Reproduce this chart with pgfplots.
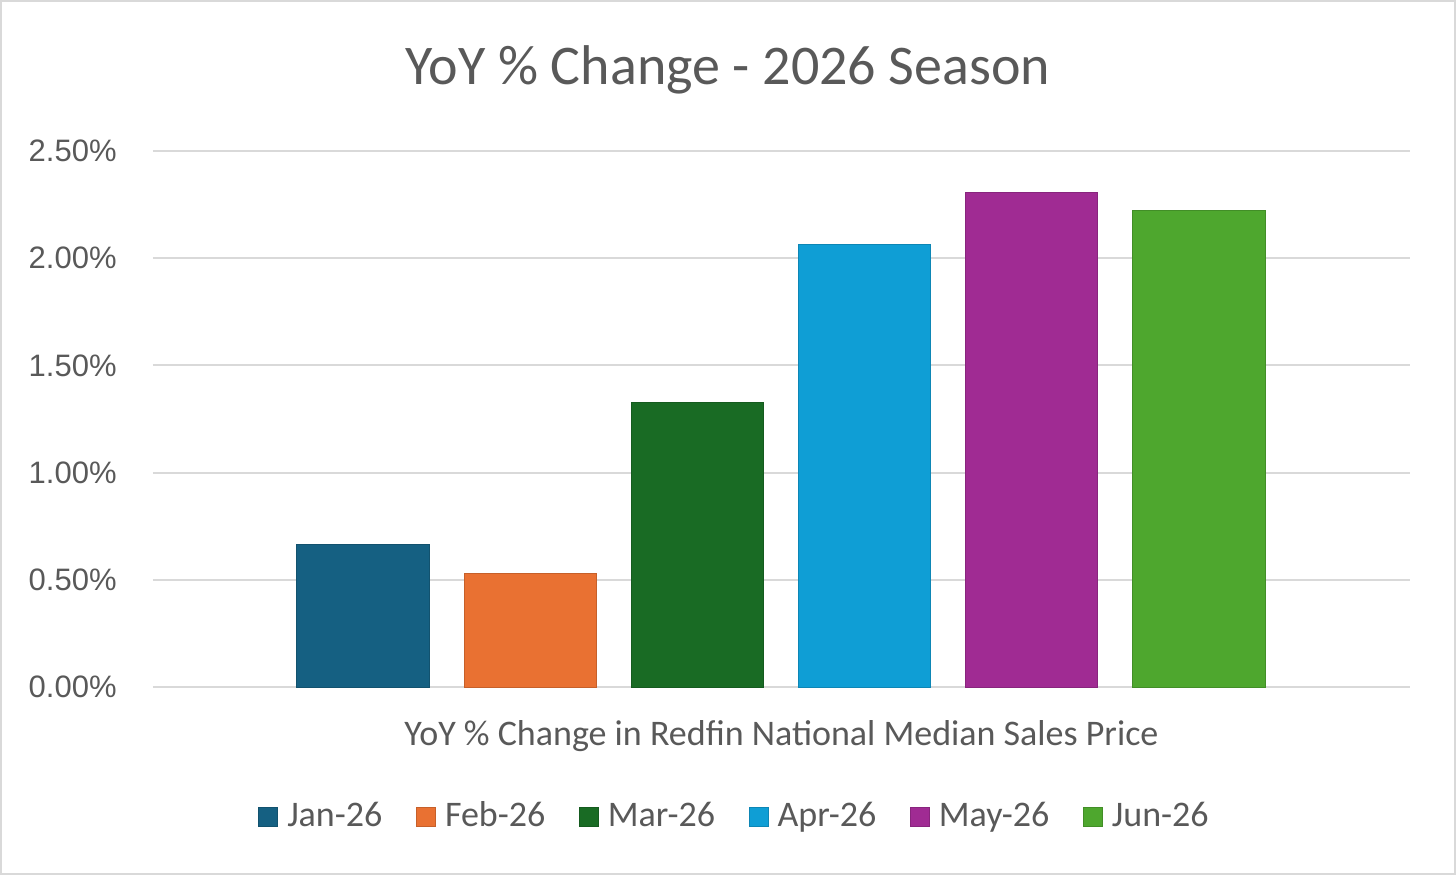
\documentclass[border=0pt]{standalone}
\usepackage{pgfplots}
\pgfplotsset{compat=1.18}
\usepackage{fontspec}
\setmainfont{Carlito}
\newfontfamily\tickfont{Liberation Sans}
\definecolor{txt}{HTML}{595959}
\definecolor{gridc}{HTML}{D9D9D9}
\definecolor{cJan}{HTML}{156082}
\definecolor{cFeb}{HTML}{E97132}
\definecolor{cMar}{HTML}{196B24}
\definecolor{cApr}{HTML}{0F9ED5}
\definecolor{cMay}{HTML}{A02B93}
\definecolor{cJun}{HTML}{4EA72E}
\begin{document}
\begin{tikzpicture}
\begin{axis}[
  scale only axis, width=628.5pt, height=268pt,
  xmin=-1.256, xmax=6.262, ymin=0, ymax=2.5,
  ybar, bar width=0.79, bar shift=0pt,
  axis line style={draw=none},
  xtick=\empty, ytick={0,0.5,1,1.5,2,2.5},
  ymajorgrids, grid style={gridc, line width=1pt},
  major tick length=0pt,
  /pgf/number format/assume math mode=true,
  yticklabel={\pgfmathprintnumber[fixed,fixed zerofill,precision=2]{\tick}\%},
  yticklabel style={font=\tickfont\fontsize{15.5}{18}\selectfont, text=txt, inner sep=0pt, xshift=-18pt},
  clip=false,
  legend columns=6,
  legend style={draw=none, fill=none, at={(axis description cs:0.4618,-0.2388)}, anchor=center,
    font=\fontsize{18}{21}\selectfont, text=txt,
    nodes={inner sep=0pt, anchor=base west},
    /tikz/every odd column/.append style={column sep=4.5pt},
    /tikz/every even column/.append style={column sep=16.8pt}},
  legend image code/.code={\fill[#1] (0pt,-0.3pt) rectangle (9.5pt,9.2pt);},
]
\addplot[fill=cJan, draw=cJan!85!black, line width=0.5pt] coordinates {(0,0.667)};
\addlegendentry{Jan-26}
\addplot[fill=cFeb, draw=cFeb!85!black, line width=0.5pt] coordinates {(1,0.530)};
\addlegendentry{Feb-26}
\addplot[fill=cMar, draw=cMar!85!black, line width=0.5pt] coordinates {(2,1.326)};
\addlegendentry{Mar-26}
\addplot[fill=cApr, draw=cApr!85!black, line width=0.5pt] coordinates {(3,2.066)};
\addlegendentry{Apr-26}
\addplot[fill=cMay, draw=cMay!85!black, line width=0.5pt] coordinates {(4,2.305)};
\addlegendentry{May-26}
\addplot[fill=cJun, draw=cJun!85!black, line width=0.5pt] coordinates {(5,2.222)};
\addlegendentry{Jun-26}
\coordinate (sw) at (rel axis cs:0,0);
\end{axis}
\node[anchor=base, text=txt, font=\fontsize{28}{32}\selectfont, inner sep=0pt] at ([shift={(287.5pt,301.4pt)}]sw) {YoY \% Change - 2026 Season};
\node[anchor=base, text=txt, font=\fontsize{18}{21}\selectfont, inner sep=0pt] at ([shift={(314.25pt,-29pt)}]sw) {YoY \% Change in Redfin National Median Sales Price};
\pgfresetboundingbox
\useasboundingbox ([shift={(-76.5pt,-94pt)}]sw) rectangle ([shift={(651.5pt,343.5pt)}]sw);
\draw[gridc, line width=1.2pt] ([shift={(-75.9pt,-93.4pt)}]sw) rectangle ([shift={(650.9pt,342.9pt)}]sw);
\end{tikzpicture}
\end{document}
